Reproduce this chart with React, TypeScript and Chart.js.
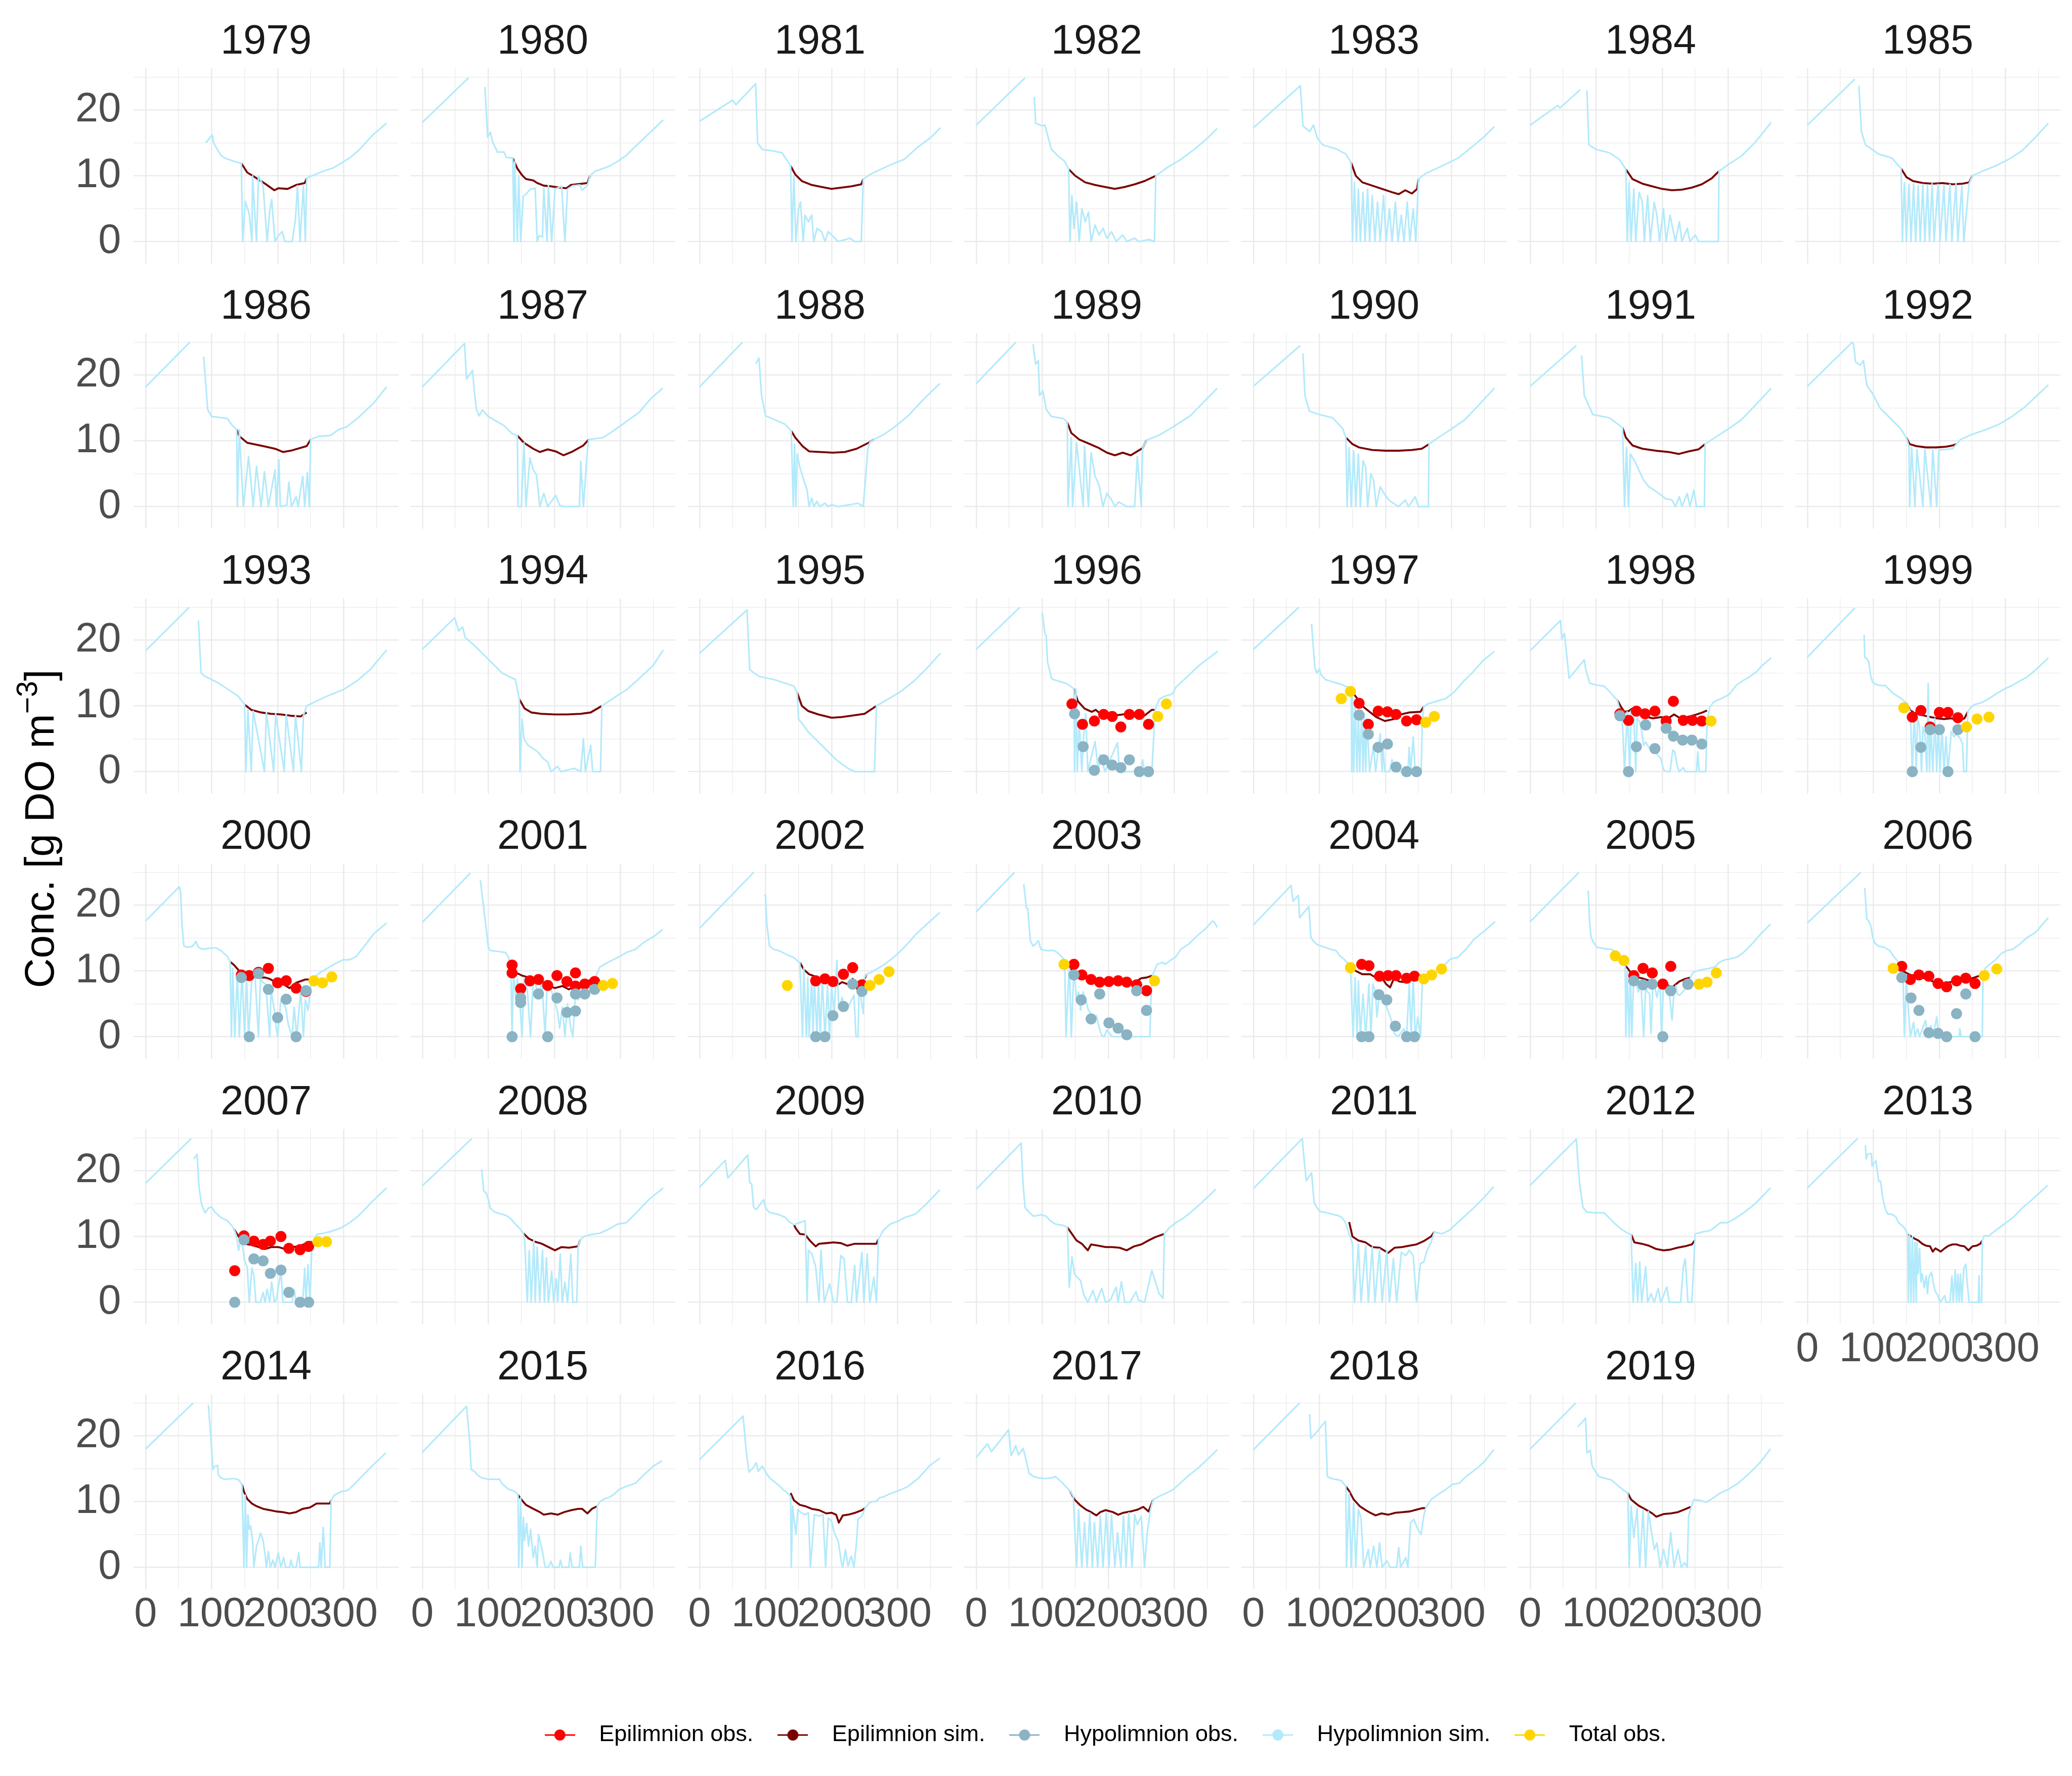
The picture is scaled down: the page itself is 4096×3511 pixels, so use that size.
import React, { useEffect, useRef } from 'react';
import { Chart, registerables } from 'chart.js';

Chart.register(...registerables);

const _ = null;

// ---------------- data ----------------
const YEARS: number[] = [
  1979, 1980, 1981, 1982, 1983, 1984, 1985, 1986, 1987, 1988, 1989, 1990, 1991, 1992,
  1993, 1994, 1995, 1996, 1997, 1998, 1999, 2000, 2001, 2002, 2003, 2004, 2005, 2006,
  2007, 2008, 2009, 2010, 2011, 2012, 2013, 2014, 2015, 2016, 2017, 2018, 2019,
];
const X_TICKS = [0, 50, 100, 150, 200, 250, 300, 350];
const X_LABELLED = [0, 100, 200, 300];
const Y_TICKS = [0, 5, 10, 15, 20, 25];
const Y_LABELLED = [0, 10, 20];
const SERIES = ['Epilimnion obs.', 'Epilimnion sim.', 'Hypolimnion obs.', 'Hypolimnion sim.', 'Total obs.'];

// hypolimnion simulation: [day, conc, day, conc, ...]; null = gap
const H1979 = [91,15.0, 101,16.2, 103,15.0, 114,13.1, 120,12.7, 134,12.2, 145,11.9, 147,0, 151,6.1, 157,4.2, 161,0, 162,10, 168,0, 171,10, 178,8.5, 184,0, 188,4.6, 191,6.4, 196,0, 201,0.9, 207,1.5, 211,0, 222,0, 227,3.4, 230,8.5, 234,0, 239,8.5, 242,0, 244,9.6, 249,9.9, 255,10.1, 269,10.7, 284,11.2, 296,11.9, 309,12.7, 323,13.9, 343,16.1, 365,18.0];
const H1980 = [0,18.1, 70,24.9, 71,_, 95,23.5, 99,15.9, 103,16.6, 107,15.0, 114,13.6, 124,13.6, 127,12.8, 137,12.7, 139,0, 140,12.2, 144,0, 146,10, 149,0, 153,6.9, 157,7.2, 164,8.0, 171,8.1, 174,0, 177,0.9, 182,0.7, 184,8.1, 189,0, 191,8.5, 196,0, 201,8.0, 211,8.4, 216,0, 220,8.0, 228,8.5, 239,8.6, 242,7.8, 250,8.5, 254,10, 262,10.7, 282,11.4, 296,12.2, 309,13.1, 323,14.5, 343,16.4, 365,18.5];
const H1981 = [0,18.3, 50,21.5, 55,20.8, 85,24.0, 88,15.0, 95,14.0, 110,13.8, 125,13.5, 138,11.5, 140,0, 143,10, 146,0, 150,5, 153,6, 157,0, 160,4, 165,3, 170,4, 173,0, 178,2, 185,1.5, 190,0, 195,1.5, 205,0.5, 210,0, 228,0.5, 235,0, 245,0, 248,9.5, 260,10.3, 275,11, 290,11.7, 310,12.5, 330,14.3, 350,15.8, 365,17.3];
const H1982 = [0,17.7, 74,24.9, 75,_, 88,22.0, 90,18.0, 100,17.6, 104,17.7, 114,14.0, 124,13.0, 134,12.2, 140,11, 142,0, 145,7, 148,2, 152,6, 156,0, 160,5, 165,3, 170,4.5, 174,0, 180,2.5, 186,1, 192,2, 198,0.5, 205,1.5, 212,0, 222,1, 228,0, 240,0.5, 246,0, 262,0.3, 270,0, 272,10, 290,11.3, 310,12.5, 330,14, 350,15.7, 365,17.2];
const H1983 = [0,17.3, 71,23.7, 75,17.6, 85,16.7, 91,17.7, 97,15.7, 105,14.7, 125,14.1, 140,13.3, 148,12, 150,0, 153,9, 156,0, 159,8, 162,0, 166,7.5, 169,0, 173,8, 176,0, 180,7, 184,0, 188,6, 192,0, 197,7, 201,0, 206,5, 210,0, 215,6, 219,0, 224,4, 228,0, 233,6, 237,0, 242,5, 246,0, 250,9.5, 260,10.3, 275,11, 290,11.7, 310,12.7, 330,14.3, 350,16, 365,17.5];
const H1984 = [0,17.7, 42,20.7, 45,20.3, 76,23.1, 78,_, 86,23.0, 89,14.7, 100,14.0, 120,13.5, 135,12.5, 145,11, 147,0, 150,9, 153,0, 157,8, 160,0, 165,7.5, 170,6, 173,0, 178,7, 182,0, 188,6, 192,4, 196,0, 202,5, 206,0, 212,4, 216,2, 220,0, 226,3, 230,0, 238,2, 242,0, 250,1, 255,0, 285,0, 286,10.7, 300,11.7, 320,13, 340,15, 365,18.1];
const H1985 = [0,17.7, 72,24.7, 73,_, 78,23.7, 82,16.7, 88,14.7, 108,13.3, 128,12.7, 142,11.1, 144,0, 147,9, 150,0, 154,8.7, 157,0, 161,8.8, 164,0, 168,8.5, 171,0, 175,8.7, 178,0, 182,8.6, 185,0, 189,8.8, 192,0, 198,8.7, 201,0, 207,8.6, 210,0, 216,8.7, 219,0, 225,8.8, 228,0, 234,8.5, 237,0, 245,8.8, 250,10, 265,10.7, 285,11.5, 305,12.5, 325,13.8, 345,15.8, 365,18];
const H1986 = [0,18.2, 67,25.0, 68,_, 88,22.8, 94,14.8, 100,13.7, 124,13.4, 130,12.5, 138,11.7, 139,0, 142,11.7, 148,0, 156,7.6, 163,0, 168,6.1, 175,0, 180,5.3, 186,0, 196,5.6, 198,0, 202,7.1, 204,0, 214,0.2, 217,3.7, 221,0, 228,1.5, 231,0, 238,4.6, 241,0, 245,5.2, 248,0, 250,10.2, 262,10.7, 280,10.8, 292,11.7, 304,12.1, 322,13.5, 346,15.8, 365,18.2];
const H1987 = [0,18.2, 64,24.8, 67,19.4, 76,20.7, 79,17.4, 82,14.8, 86,13.8, 91,14.7, 100,13.7, 112,13.0, 124,12.3, 136,11.1, 144,10.8, 145,0, 150,0, 154,9.7, 157,0, 163,7.4, 168,5.6, 173,4.8, 178,0, 184,2, 190,0, 202,1.7, 208,0.2, 214,0, 238,0, 240,6.9, 244,0, 250,8.5, 252,10.2, 274,10.5, 292,11.7, 310,13.0, 328,14.3, 346,16.4, 364,18.0];
const H1988 = [0,18.2, 65,25.0, 66,_, 85,21.7, 90,22.6, 94,16.9, 100,13.8, 112,13.3, 130,12.5, 139,11.5, 142,0, 144,9.5, 146,0, 148,8, 152,6, 158,4, 163,2.5, 166,0, 170,1.3, 173,0, 178,0.8, 182,0, 190,0.5, 195,0, 200,0.3, 210,0, 240,0.5, 248,0, 252,5, 255,8.8, 258,9.8, 264,10.2, 280,11.0, 298,12.3, 316,13.8, 340,16.4, 364,18.7];
const H1989 = [0,18.7, 60,25.0, 61,_, 86,24.7, 90,21.7, 94,22.2, 96,16.9, 101,17.6, 106,14.8, 114,13.7, 132,13.4, 138,12.8, 139,0, 144,10.5, 146,0, 152,9.7, 162,0, 164,9.2, 170,0, 174,8.2, 180,4.6, 186,3.3, 192,0, 198,2, 204,1.2, 210,0, 216,0.7, 228,0, 240,0, 244,7.6, 250,0, 252,8.9, 258,10.1, 276,10.8, 298,12.1, 324,13.8, 365,18.0];
const H1990 = [0,18.3, 71,24.5, 72,_, 75,23.3, 78,16.9, 85,14.5, 100,14.0, 120,13.5, 135,11.9, 140,10.5, 142,0, 145,9, 148,0, 152,8.5, 155,0, 159,8, 162,0, 166,7, 170,6, 173,0, 178,5, 182,4, 186,0, 192,3, 198,2, 205,1, 212,0.5, 220,0, 230,1, 235,0, 245,1.5, 250,0, 265,0, 266,9.5, 280,10.5, 300,11.8, 320,13.2, 340,15.3, 365,18.0];
const H1991 = [0,18.3, 70,24.5, 71,_, 78,23.0, 82,16.9, 95,14.0, 120,13.5, 140,12, 143,0, 146,9, 149,0, 152,8, 158,7, 165,5.5, 172,4, 180,3, 188,2.5, 195,2, 205,1.2, 215,1, 220,0, 226,1.5, 230,0, 238,2, 242,0, 248,2.5, 252,0, 264,0, 265,9.5, 280,10.5, 300,11.8, 320,13.2, 340,15.3, 365,18.0];
const H1992 = [0,18.3, 68,25.0, 70,24.7, 73,22.0, 80,21.5, 85,22.2, 90,18.5, 100,17.0, 110,15.0, 120,14.0, 130,13.0, 140,12.0, 150,10.5, 154,9.2, 155,0, 158,9, 163,0, 166,8.7, 175,0, 178,8.8, 187,0, 190,8.8, 196,0, 199,8.6, 210,8.7, 220,8.8, 226,9.5, 232,10.2, 250,11.0, 270,11.7, 290,12.5, 310,13.7, 330,15.2, 365,18.5];
const H1993 = [0,18.4, 66,25.0, 67,_, 80,23.0, 84,15.0, 90,14.5, 100,14.0, 110,13.5, 125,12.5, 140,11.5, 150,10.2, 152,0, 155,9.5, 160,0, 163,9.2, 180,0, 183,9, 194,0, 197,8.8, 210,0, 213,8.7, 224,0, 227,8.6, 236,0, 239,8.5, 244,10, 260,10.8, 280,11.7, 300,12.5, 320,13.8, 340,15.5, 365,18.5];
const H1994 = [0,18.6, 49,23.4, 55,21.4, 61,22.0, 65,20.4, 81,19.0, 101,17.0, 121,15.0, 141,14.0, 147,11.0, 148,0, 151,8, 154,5, 160,4, 168,3.5, 175,3, 183,2, 190,1.5, 195,0, 205,0.8, 210,0, 230,0.5, 240,0, 244,5, 247,0, 255,4, 258,0, 270,0, 272,10, 290,11.2, 310,12.5, 330,14.3, 350,16.2, 365,18.5];
const H1995 = [0,18.0, 72,24.6, 76,15.5, 90,14.5, 113,14.0, 143,13.0, 148,12, 150,8, 158,7, 165,6, 175,5, 185,4, 195,3, 205,2, 215,1.2, 225,0.5, 235,0, 265,0, 268,10, 285,11, 305,12.2, 325,13.8, 345,15.8, 365,18.0];
const H1996 = [0,18.6, 66,25.0, 67,_, 100,24.2, 104,21.0, 106,20.7, 108,16.7, 114,14.2, 117,14.0, 127,13.7, 137,13.4, 144,12.9, 148,12.6, 149,0, 151,12.6, 153,0, 156,7.7, 160,0, 162,4.5, 166,8.8, 169,0, 180,4.6, 185,0, 188,2.6, 195,0, 214,4.4, 217,0, 249,0, 252,1.8, 255,0, 266,0, 268,3.7, 271,9.4, 277,11.0, 286,11.5, 297,11.8, 303,12.9, 317,14.2, 337,16.1, 351,17.2, 366,18.3];
const H1997 = [0,18.6, 69,25.0, 70,_, 88,22.5, 93,15.9, 96,15.0, 100,15.6, 102,14.8, 109,14.0, 122,13.6, 132,13.3, 142,12.9, 148,12.3, 149,0, 150,11.3, 152,0, 154,10.4, 157,0, 159,9.6, 161,0, 164,9.4, 166,0, 168,8.8, 170,0, 172,8.0, 176,0, 182,4.0, 185,0, 192,5.8, 195,0, 196,4.0, 199,0, 206,0, 210,1.8, 213,0, 234,0, 236,3.7, 238,0, 242,5.3, 245,0, 254,0, 256,8.0, 258,9.9, 264,10.3, 277,10.7, 291,11.1, 304,12.1, 318,13.7, 331,15.0, 348,16.9, 365,18.3];
const H1998 = [0,18.4, 46,23.0, 48,20.2, 52,21.0, 59,14.2, 82,17.0, 84,15.7, 90,13.5, 95,13.3, 105,13.1, 112,13.0, 121,12.1, 127,11.4, 132,10.9, 136,9.3, 139,9.1, 143,0, 147,9.1, 151,0, 153,9.3, 157,9.1, 160,0, 162,8.1, 166,7.6, 169,6.1, 172,4.0, 175,4.5, 181,3.5, 189,3.0, 198,2.0, 202,0.3, 206,0, 212,0, 216,3.3, 219,3.0, 223,0.8, 226,0, 232,0.6, 235,0, 252,0, 254,3.0, 256,0, 266,0, 268,7.8, 272,9.8, 278,10.6, 289,11.1, 301,11.7, 312,13.1, 323,13.9, 332,14.4, 343,15.2, 352,16.2, 365,17.3];
const H1999 = [0,17.4, 72,24.9, 73,_, 86,20.8, 87,17.4, 90,17.2, 93,16.7, 96,14.5, 99,13.6, 103,13.3, 110,13.1, 118,13.1, 125,12.4, 130,11.9, 138,11.4, 145,10.9, 150,10.4, 156,9.1, 159,0, 162,9.1, 165,0, 167,8.3, 170,6.8, 173,0, 175,6.8, 178,5.6, 181,0, 183,13.4, 185,0, 187,7.1, 190,0, 193,8.1, 196,0, 198,7.1, 201,0, 204,6.6, 207,0, 210,5.3, 213,0, 218,6.1, 222,5.3, 225,5.6, 230,5.3, 235,4.3, 237,0, 241,0, 243,9.1, 247,9.7, 253,10.2, 264,10.5, 275,11.1, 287,11.9, 299,12.6, 310,13.1, 322,13.8, 333,14.4, 345,15.4, 365,17.3];
const H2000 = [0,17.6, 51,22.8, 53,22.0, 55,17.3, 58,13.8, 63,13.6, 70,13.7, 73,14.0, 76,14.5, 80,13.6, 86,13.3, 100,13.5, 107,13.5, 114,13.1, 124,12.2, 128,11.4, 130,0, 132,10.4, 135,0, 139,9.6, 142,0, 146,9.6, 150,0, 153,8.8, 156,0, 161,9.0, 166,8.8, 171,0, 174,8.8, 178,8.2, 182,8.0, 188,0, 190,7.2, 195,4.0, 198,1.3, 200,0, 205,5.6, 212,4.5, 216,1.9, 222,0, 225,4.5, 229,0, 235,7.2, 239,0, 242,5.6, 246,4.0, 249,6.6, 251,8.2, 255,9.0, 265,9.8, 275,10.4, 289,11.2, 299,11.7, 309,11.7, 319,12.2, 330,13.6, 346,15.7, 365,17.3];
const H2001 = [0,17.4, 73,24.9, 74,_, 88,23.8, 92,20.5, 97,16.2, 100,13.6, 103,13.1, 113,13.0, 126,12.8, 130,12.2, 134,10.9, 136,0, 138,9.8, 142,5.6, 144,8.8, 147,6.6, 151,0, 154,9.0, 159,7.2, 164,0, 168,8.8, 174,7.2, 178,6.6, 181,8.8, 186,0, 189,7.7, 195,7.2, 200,5.6, 205,3.7, 208,1.3, 212,4.5, 216,0, 220,5.0, 225,1.3, 228,0, 232,6.6, 236,5.6, 242,6.6, 249,7.2, 255,8.0, 262,9.0, 269,10.6, 279,11.2, 289,11.7, 299,12.2, 309,12.8, 323,13.3, 336,14.4, 350,15.2, 364,16.3];
const H2002 = [0,16.5, 82,25.0, 83,_, 98,21.6, 100,21.4, 102,17.1, 106,13.8, 112,13.3, 120,13.1, 128,12.7, 136,12.3, 142,12.1, 148,11.6, 152,11.3, 156,0, 158,10.5, 162,0, 164,9.0, 166,0, 170,9.0, 172,0, 174,8.8, 178,0, 180,8.8, 183,0, 186,9.0, 190,0, 194,7.8, 197,0, 200,8.0, 204,3.5, 208,11.6, 211,4.2, 216,6.0, 220,4.2, 226,4.7, 230,5.5, 234,6.3, 237,0, 240,0, 242,8.0, 244,6.3, 248,3.5, 250,9.0, 253,9.5, 260,9.8, 272,10.5, 280,11.0, 288,11.6, 300,12.6, 312,13.8, 328,15.6, 344,17.1, 364,18.9];
const H2003 = [0,19.0, 58,25.0, 59,_, 72,23.2, 76,19.6, 78,19.5, 82,14.6, 86,13.8, 90,14.1, 94,14.6, 98,13.3, 106,13.1, 118,13.1, 124,12.7, 130,12.1, 134,11.6, 136,0, 141,11.3, 144,0, 148,10.5, 152,5.5, 155,6.8, 158,4.0, 162,6.8, 166,5.5, 170,4.0, 174,3.5, 178,3.0, 182,3.2, 186,1.5, 190,0.2, 194,0, 198,1.0, 206,0, 263,0, 265,6.8, 267,9.3, 274,11.0, 282,11.3, 286,11.0, 294,11.6, 302,12.1, 310,13.3, 322,14.1, 334,15.3, 346,16.3, 358,17.6, 361,17.4, 365,16.6];
const H2004 = [0,17.0, 57,23.0, 60,20.6, 68,21.5, 70,18.1, 84,19.8, 87,15.1, 91,14.5, 97,14.0, 105,13.7, 117,13.3, 125,13.1, 131,12.3, 137,11.8, 142,11.3, 147,10.5, 151,0, 154,9.0, 157,0, 159,8.5, 162,0, 166,6.5, 170,0, 175,8.0, 178,0, 181,8.0, 185,6.8, 187,3.0, 191,6.5, 197,5.8, 203,4.2, 209,2.5, 213,0.5, 219,0, 228,1.2, 232,0, 236,8.0, 239,0, 242,9.0, 245,0, 249,3.0, 253,0, 256,9.0, 261,9.4, 273,9.8, 286,10.5, 298,11.8, 310,12.1, 322,13.3, 334,14.8, 350,16.1, 366,17.5];
const H2005 = [0,17.5, 74,25.0, 75,_, 88,22.2, 90,17.6, 92,15.3, 95,14.5, 101,13.6, 112,13.4, 123,13.3, 127,13.1, 132,12.3, 141,11.3, 144,10.8, 145,0, 147,10.0, 150,0, 152,9.8, 154,0, 157,9.5, 161,8.0, 164,6.8, 168,8.0, 172,0, 175,7.5, 178,6.8, 181,6.5, 183,0.5, 186,8.0, 189,7.5, 192,6.0, 197,8.0, 199,0, 202,8.0, 205,7.0, 209,7.5, 212,5.5, 215,2.5, 218,7.0, 221,7.8, 223,6.5, 226,6.3, 231,6.8, 235,7.3, 239,8.0, 243,9.0, 246,9.7, 252,10.0, 261,10.2, 272,10.4, 281,10.7, 286,11.3, 295,11.7, 306,11.9, 315,12.2, 323,12.8, 335,14.0, 349,15.6, 364,17.1];
const H2006 = [0,17.3, 81,25.0, 82,_, 87,22.6, 90,17.9, 93,17.6, 96,16.9, 99,15.1, 102,14.3, 107,13.8, 116,13.6, 125,13.1, 130,12.3, 136,11.6, 140,11.0, 145,9.0, 147,0, 150,9.0, 153,4.2, 156,0, 161,2.2, 163,0, 167,1.2, 170,0, 179,2.5, 182,0, 187,1.7, 190,0, 196,3.0, 199,0, 230,0, 231,1.2, 233,0, 265,0, 266,9.0, 270,10.5, 276,11.0, 285,11.7, 293,12.6, 302,13.1, 311,13.3, 322,14.1, 333,15.1, 345,15.8, 365,18.1];
const H2007 = [0,18.1, 69,24.9, 70,_, 73,21.8, 78,22.5, 81,17.4, 85,14.8, 90,13.6, 95,14.3, 100,14.5, 105,13.7, 114,12.9, 124,12.4, 131,11.6, 134,11.1, 137,10.3, 141,7.9, 144,9.5, 147,8.4, 150,6.3, 154,5.3, 157,0, 161,5.2, 164,4.1, 167,0, 174,0, 178,1.5, 181,0, 184,2.0, 188,0, 191,3.1, 195,0, 198,0.4, 205,4.7, 208,0, 222,0, 225,2.0, 228,0, 238,0, 241,5.2, 243,0, 246,5.7, 249,0, 252,8.9, 259,10.3, 269,10.5, 282,10.8, 296,11.3, 309,12.1, 323,13.2, 343,15.3, 365,17.4];
const H2008 = [0,17.7, 75,24.9, 76,_, 90,20.2, 93,16.9, 97,16.6, 100,15.6, 103,14.3, 110,13.7, 117,13.5, 127,13.2, 134,12.7, 141,11.9, 147,11.3, 153,10.5, 155,9.5, 159,0, 162,7.9, 165,0, 169,9.5, 171,0, 174,8.4, 178,0, 182,7.9, 185,0, 188,6.8, 191,0, 196,4.7, 199,0, 203,3.6, 205,0, 209,7.3, 212,0, 216,3.1, 220,0, 225,7.3, 228,0, 234,0, 236,8.4, 239,9.5, 245,10.0, 255,10.3, 269,10.5, 282,11.1, 296,11.9, 309,12.1, 323,13.5, 343,15.6, 365,17.4];
const H2009 = [0,17.5, 39,21.6, 43,18.9, 73,22.4, 76,18.2, 79,18.0, 82,14.4, 86,14.1, 97,15.6, 100,14.4, 105,13.7, 121,13.3, 130,12.9, 136,12.2, 143,11.8, 154,12.2, 160,12.4, 163,0, 165,7.9, 170,7.4, 176,5.4, 181,0, 184,7.9, 189,0, 197,2.8, 203,0, 208,0, 214,7.1, 219,6.6, 224,0, 230,0, 235,5.6, 238,0, 246,7.6, 249,0, 254,7.4, 258,0, 264,3.8, 268,0, 271,9.6, 278,10.9, 289,11.9, 300,12.3, 311,12.9, 327,13.4, 343,14.9, 364,17.1];
const H2010 = [0,17.2, 68,24.2, 71,18.0, 74,14.4, 80,13.7, 87,13.1, 98,13.3, 106,13.1, 112,12.4, 120,11.9, 131,11.7, 138,11.4, 141,2.3, 145,6.9, 149,4.3, 153,3.8, 158,3.3, 163,1.1, 169,0, 177,1.8, 182,0, 190,2.1, 196,0, 203,0.3, 212,2.3, 215,0, 220,3.1, 225,0, 233,0, 242,1.6, 246,0.3, 255,0, 266,4.8, 271,3.3, 277,1.3, 283,0.6, 285,10.4, 293,11.4, 304,12.2, 314,12.8, 325,13.7, 341,15.1, 363,17.2];
const H2011 = [0,17.3, 74,24.9, 76,22.5, 80,18.5, 88,19.7, 92,15.2, 96,14.4, 101,13.8, 112,13.6, 123,13.3, 128,13.2, 134,12.9, 139,12.2, 145,10.4, 150,8.9, 153,0, 159,8.9, 163,0, 170,8.6, 174,0, 180,8.4, 184,0, 191,8.1, 195,0, 202,7.9, 206,0, 212,6.6, 217,0, 224,7.6, 231,7.1, 236,7.9, 242,7.1, 247,0, 253,5.9, 258,6.1, 263,7.9, 269,9.1, 274,10.7, 285,10.4, 296,10.9, 307,11.9, 318,12.9, 334,14.4, 350,16.0, 364,17.6];
const H2012 = [0,17.8, 70,24.8, 72,21.8, 75,18.0, 80,14.4, 86,13.7, 99,13.6, 112,13.6, 121,12.7, 129,11.9, 137,11.2, 148,10.5, 153,10.3, 156,0, 160,5.9, 163,0, 166,6.1, 169,0, 175,5.4, 178,0, 183,1.3, 188,0, 194,2.1, 198,0, 207,2.3, 211,0, 228,0, 232,5.4, 235,6.6, 239,0, 245,0, 250,10.4, 261,10.7, 272,10.9, 277,11.2, 288,12.1, 299,12.1, 310,12.7, 326,13.8, 342,15.1, 364,17.4];
const H2013 = [0,17.4, 76,24.9, 77,_, 88,23.9, 89,21.8, 92,22.6, 97,22.6, 98,20.7, 102,21.3, 104,21.5, 108,18.4, 111,18.4, 114,16.0, 118,14.2, 122,13.4, 128,13.4, 134,13.0, 138,12.1, 142,11.8, 148,11.2, 152,10.3, 153,0, 155,10.3, 157,0, 159,10.0, 161,0, 163,9.1, 165,0, 166,9.1, 168,4.3, 170,8.2, 172,3.1, 174,4.3, 177,2.2, 180,4.0, 182,1.3, 184,3.7, 188,4.6, 191,2.8, 194,1.6, 198,1.0, 201,0, 208,1.0, 210,0, 216,0, 219,4.0, 221,0, 224,4.9, 226,0, 228,4.3, 230,0, 232,4.3, 234,0, 237,5.2, 240,5.8, 242,3.1, 245,0, 259,0, 260,4.0, 261,0, 264,0, 265,9.4, 268,10.1, 275,10.1, 281,10.6, 289,11.2, 297,11.8, 305,12.4, 313,13.0, 325,14.3, 337,15.3, 349,16.4, 364,17.8];
const H2014 = [0,18.0, 72,25.0, 73,_, 95,24.7, 98,21.0, 100,18.0, 102,14.9, 105,15.4, 109,15.5, 110,14.1, 114,13.6, 120,13.4, 134,13.5, 141,13.3, 146,12.6, 149,0, 151,11.0, 153,0, 155,8.0, 157,5.8, 159,6.3, 162,4.1, 164,0, 168,3.2, 171,4.1, 174,5.2, 178,4.1, 181,1.9, 183,0, 186,2.4, 189,0, 193,1.1, 196,0, 201,2.2, 205,0, 209,1.5, 212,0, 218,0, 220,1.1, 223,0, 228,0, 232,2.2, 234,0, 262,0, 264,3.7, 266,0, 269,6.1, 272,0, 279,0, 281,10.2, 286,11.0, 296,11.5, 306,11.7, 316,12.6, 330,14.1, 347,15.8, 364,17.4];
const H2015 = [0,17.5, 67,24.5, 70,21.2, 72,18.8, 74,14.9, 80,14.5, 83,14.1, 90,13.6, 100,13.4, 117,13.4, 120,12.8, 130,11.9, 141,11.5, 145,11.0, 146,0, 149,10.6, 151,0, 153,7.6, 155,4.1, 158,6.7, 161,3.2, 164,5.8, 168,1.5, 171,3.2, 174,0, 176,5.0, 180,3.2, 182,2.4, 186,0, 191,0, 195,0.9, 198,0, 207,0, 209,1.1, 212,0, 222,0, 224,2.2, 227,0, 238,0, 240,3.2, 243,0, 262,0, 265,9.3, 269,10.0, 276,10.4, 282,10.6, 289,11.0, 299,11.9, 309,12.3, 323,12.8, 336,14.1, 350,15.4, 363,16.2];
const H2016 = [0,16.4, 66,23.0, 71,17.4, 75,14.5, 81,15.1, 86,15.9, 89,14.6, 95,15.4, 100,14.5, 106,13.6, 116,12.8, 122,12.3, 127,11.8, 133,11.3, 138,10.8, 139,0, 141,9.3, 146,5.0, 149,8.8, 154,8.3, 160,8.0, 165,8.3, 168,0, 174,8.0, 181,7.8, 187,8.0, 191,0, 195,7.5, 200,7.0, 204,5.3, 210,4.0, 215,0.7, 217,0, 221,2.7, 225,0.2, 230,1.7, 234,0, 238,4.0, 240,7.3, 246,7.8, 251,9.0, 257,9.8, 262,10.0, 267,10.0, 273,10.6, 278,10.7, 289,11.2, 305,11.8, 316,12.3, 332,13.6, 348,15.4, 364,16.6];
const H2017 = [0,16.7, 17,18.8, 23,17.6, 49,20.9, 53,17.0, 60,18.5, 64,17.1, 71,18.1, 75,16.6, 80,14.3, 87,13.8, 95,13.6, 104,13.5, 114,13.6, 120,13.8, 131,12.8, 142,11.6, 147,10.8, 152,0, 155,8.8, 160,0, 164,6.8, 168,0, 172,8.3, 176,0, 179,6.8, 184,0, 188,7.8, 192,0, 197,8.3, 201,0, 205,8.0, 210,0, 214,5.3, 219,0, 223,7.8, 227,0, 231,8.3, 236,0, 240,8.0, 244,6.5, 250,7.8, 255,0, 259,5.3, 264,8.8, 268,10.3, 277,10.8, 288,11.3, 298,11.8, 309,12.8, 320,13.8, 336,15.1, 352,16.6, 365,17.9];
const H2018 = [0,17.9, 70,25.0, 71,_, 85,23.3, 87,19.6, 96,20.6, 109,22.2, 112,13.8, 118,13.5, 129,13.3, 134,13.1, 140,12.3, 141,0, 145,11.3, 148,0, 152,9.8, 155,0, 159,8.8, 163,7.5, 167,0, 174,2.7, 177,0, 182,3.2, 187,0, 191,3.7, 195,0, 202,1.0, 207,0, 217,0, 220,3.0, 223,0, 231,1.5, 234,0, 238,6.8, 243,7.3, 249,5.8, 254,5.0, 258,7.8, 261,9.0, 269,10.3, 280,11.1, 291,11.8, 301,12.6, 312,12.8, 322,13.8, 339,15.1, 350,16.1, 364,17.9];
const H2019 = [0,18.0, 69,25.0, 70,_, 72,21.4, 80,22.2, 84,22.7, 86,17.4, 91,17.8, 94,15.4, 99,14.6, 104,13.8, 115,13.5, 123,13.3, 131,12.6, 142,11.7, 148,11.3, 150,0, 153,9.3, 157,4.5, 162,9.0, 166,0, 171,8.8, 175,0, 179,8.5, 184,5.3, 188,2.7, 192,3.7, 197,0, 202,2.7, 208,0, 213,5.3, 218,0, 224,2.7, 229,0, 234,0.7, 238,0, 240,7.8, 243,8.8, 248,10.3, 256,10.2, 267,9.9, 278,10.6, 288,11.3, 299,11.8, 315,12.8, 332,14.3, 348,15.9, 364,18.0];

// epilimnion simulation
const E1979 = [145,11.9, 154,10.5, 167,9.7, 181,8.8, 195,7.8, 201,8.1, 215,8.0, 228,8.6, 241,8.9, 244,9.6];
const E1980 = [137,12.7, 144,11.1, 151,10.1, 157,9.5, 168,9.3, 174,8.9, 184,8.5, 195,8.4, 208,8.2, 218,8.1, 225,8.6, 242,8.8, 250,8.9, 254,10];
const E1981 = [138,11.5, 145,10.2, 155,9.2, 170,8.6, 185,8.3, 200,8.0, 215,8.2, 230,8.4, 245,8.7, 248,9.5];
const E1982 = [140,11, 150,10, 165,9, 180,8.6, 195,8.3, 210,8.0, 225,8.3, 240,8.7, 255,9.2, 268,9.8, 272,10];
const E1983 = [148,12, 155,10, 165,9, 180,8.5, 195,8, 210,7.5, 220,7.2, 230,7.8, 240,7.3, 248,8, 250,9.5];
const E1984 = [145,11, 155,9.5, 170,8.8, 185,8.4, 200,8.0, 215,7.8, 230,7.9, 245,8.2, 260,8.7, 275,9.6, 286,10.7];
const E1985 = [142,11.1, 150,9.8, 160,9.2, 175,8.9, 190,8.8, 205,8.9, 220,8.7, 235,8.8, 245,9, 250,10];
const E1986 = [138,11.7, 142,10.7, 154,9.7, 178,9.2, 196,8.8, 208,8.3, 220,8.5, 244,9.2, 250,10.2];
const E1987 = [144,10.8, 154,9.7, 168,8.8, 178,8.3, 190,8.7, 202,8.4, 214,7.8, 226,8.3, 244,9.3, 252,10.2];
const E1988 = [139,11.5, 145,10.5, 156,9.2, 166,8.4, 184,8.3, 202,8.2, 220,8.3, 238,8.8, 256,9.7, 264,10.2];
const E1989 = [138,12.8, 144,11.2, 156,10.2, 168,9.7, 186,8.9, 198,8.2, 210,7.8, 222,8.2, 234,7.8, 252,8.9, 258,10.1];
const E1990 = [140,10.5, 150,9.5, 160,9.0, 180,8.6, 200,8.5, 220,8.5, 240,8.6, 255,8.8, 266,9.5];
const E1991 = [140,12, 145,10.5, 155,9.3, 170,8.8, 190,8.5, 210,8.3, 225,8.0, 240,8.4, 255,8.7, 265,9.5];
const E1992 = [150,10.5, 155,9.5, 165,9.2, 180,9.0, 195,9.0, 210,9.1, 220,9.3, 226,9.5];
const E1993 = [150,10.2, 160,9.4, 175,9.0, 190,8.8, 205,8.7, 220,8.5, 235,8.4, 244,9.0];
const E1994 = [147,11, 155,9.6, 165,9.0, 180,8.8, 200,8.7, 220,8.7, 240,8.8, 255,9.0, 272,10];
const E1995 = [148,12, 155,10, 165,9.2, 180,8.7, 200,8.2, 215,8.3, 230,8.5, 250,8.8, 268,10];
const E1996 = [148,12.6, 154,10.7, 164,9.6, 175,9.1, 181,9.4, 188,8.8, 201,8.7, 215,8.6, 229,8.8, 242,8.4, 252,8.3, 266,9.4, 271,9.4];
const E1997 = [148,12.3, 156,11.3, 166,9.9, 176,9.1, 186,8.3, 199,7.7, 213,8.0, 223,8.7, 236,9.0, 253,9.1, 258,9.9];
const E1998 = [132,10.9, 138,9.8, 143,9.1, 149,9.2, 155,9.6, 162,9.1, 169,8.7, 178,8.3, 186,8.1, 198,8.3, 209,8.1, 218,8.7, 226,8.2, 238,8.3, 249,8.6, 261,9.0, 268,9.3];
const E1999 = [150,10.4, 156,9.3, 162,9.0, 170,8.7, 178,8.5, 187,8.3, 196,8.1, 207,8.0, 218,8.1, 230,7.8, 238,8.1, 243,9.1];
const E2000 = [128,11.4, 134,10.9, 141,10.1, 150,9.8, 161,9.6, 171,9.0, 181,9.0, 188,8.8, 198,8.2, 208,8.0, 218,7.4, 228,8.2, 242,8.7, 251,8.7];
const E2001 = [134,10.9, 141,9.8, 151,9.3, 161,9.0, 171,8.5, 181,8.2, 191,7.7, 201,7.4, 212,7.7, 222,7.2, 232,7.7, 242,8.0, 252,8.5, 262,9.0];
const E2002 = [152,11.3, 158,10.2, 166,9.5, 174,9.2, 182,8.9, 192,8.5, 200,8.1, 208,7.8, 216,8.3, 224,8.0, 232,8.8, 240,7.0, 248,8.3, 253,9.5];
const E2003 = [134,11.6, 142,10.5, 150,9.7, 162,9.0, 174,8.7, 186,8.4, 198,8.3, 210,8.1, 222,8.0, 234,8.0, 242,8.4, 250,8.9, 258,9.0, 267,9.3];
const E2004 = [147,10.5, 157,9.9, 165,9.5, 177,9.5, 185,9.0, 193,9.2, 201,8.0, 207,7.5, 213,8.9, 221,8.4, 229,8.3, 237,8.8, 245,8.9, 256,9.0];
const E2005 = [144,10.8, 147,10.5, 152,9.8, 158,9.4, 164,9.0, 169,8.9, 175,8.7, 184,8.4, 192,8.1, 198,7.9, 203,8.0, 209,7.8, 215,7.5, 221,8.0, 226,8.4, 235,8.8, 243,9.0];
const E2006 = [140,11.0, 145,10.0, 150,9.7, 156,9.4, 165,9.3, 173,9.0, 182,8.8, 190,8.4, 199,8.1, 207,8.0, 216,8.3, 225,8.5, 233,8.7, 242,8.8, 250,8.9, 259,9.2, 266,9.5];
const E2007 = [134,11.1, 141,10.0, 150,8.9, 161,8.7, 171,8.4, 181,8.1, 191,8.4, 201,8.4, 211,8.1, 222,8.4, 232,8.5, 242,8.9, 252,9.2];
const E2008 = [153,10.5, 161,9.7, 171,9.2, 181,8.9, 191,8.4, 201,7.9, 211,8.4, 222,8.3, 236,8.5, 239,9.5];
const E2009 = [143,11.8, 146,11.2, 152,10.4, 160,10.3, 167,9.4, 176,8.5, 181,8.9, 192,9.0, 203,9.1, 214,9.0, 224,8.6, 235,8.9, 251,8.9, 268,8.9, 271,9.6];
const E2010 = [138,11.4, 145,10.4, 152,9.4, 160,8.9, 169,7.9, 174,8.8, 185,8.6, 196,8.4, 206,8.4, 217,8.3, 228,7.9, 239,8.5, 250,8.8, 261,9.4, 271,9.9, 285,10.4];
const E2011 = [145,12.2, 150,10.0, 159,9.4, 170,9.1, 180,8.4, 191,8.3, 204,7.5, 214,8.3, 225,8.4, 236,8.6, 247,8.8, 258,9.3, 269,10.0, 274,10.7];
const E2012 = [153,10.3, 158,9.1, 169,8.9, 180,8.6, 191,8.1, 202,7.9, 212,8.0, 223,8.3, 234,8.5, 245,8.8, 250,9.5];
const E2013 = [152,10.3, 156,10.1, 162,9.7, 168,9.4, 174,8.9, 180,8.6, 186,8.5, 190,7.7, 194,8.2, 199,7.9, 202,7.7, 208,8.2, 214,8.6, 220,8.8, 226,8.8, 232,8.6, 238,8.5, 244,7.9, 250,8.5, 256,8.6, 262,8.9, 265,9.4];
const E2014 = [146,12.6, 149,11.5, 154,10.4, 161,9.7, 168,9.3, 178,8.9, 188,8.7, 198,8.5, 208,8.4, 218,8.2, 228,8.4, 238,8.9, 249,9.1, 259,9.7, 269,9.7, 279,9.7, 281,10.2];
const E2015 = [145,11.0, 151,10.2, 157,9.5, 168,8.9, 178,8.4, 184,8.0, 195,8.2, 205,8.0, 215,8.4, 226,8.7, 236,8.9, 242,8.9, 250,8.2, 257,8.9, 265,9.3];
const E2016 = [138,11.3, 143,10.2, 152,9.5, 160,9.3, 170,8.9, 181,8.7, 192,8.2, 200,8.3, 207,8.0, 211,6.8, 217,7.9, 225,8.0, 236,8.3, 246,8.7, 251,9.0];
const E2017 = [142,11.6, 149,10.3, 158,9.4, 166,8.8, 174,8.4, 182,7.9, 188,8.4, 196,8.7, 207,8.4, 215,8.0, 223,8.3, 234,8.5, 245,8.8, 253,9.2, 261,8.5, 268,10.3];
const E2018 = [140,12.3, 145,11.6, 152,10.3, 161,9.3, 170,8.7, 177,8.3, 185,7.9, 194,8.2, 204,8.0, 215,8.3, 226,8.4, 237,8.5, 248,8.8, 256,9.0, 261,9.0];
const E2019 = [148,11.3, 153,10.3, 164,9.4, 175,8.8, 185,8.2, 191,7.7, 202,8.1, 213,8.2, 224,8.4, 234,8.8, 243,9.2];

// observations (1996-2007)
const EO1996 = [145,10.3, 161,7.2, 179,7.7, 193,8.7, 206,8.4, 219,6.8, 232,8.7, 247,8.7, 261,7.2];
const HO1996 = [149,8.8, 162,3.8, 179,0.2, 193,1.8, 206,1.0, 219,0.6, 232,1.8, 247,0, 261,0];
const TO1996 = [275,8.4, 288,10.3];
const EO1997 = [160,10.4, 174,7.2, 189,9.2, 203,9.1, 216,8.7, 232,7.7, 247,7.9];
const HO1997 = [160,8.6, 174,5.7, 189,3.7, 203,4.2, 216,0.7, 232,0, 247,0];
const TO1997 = [133,11.1, 147,12.2, 261,7.5, 274,8.4];
const EO1998 = [136,8.8, 149,7.8, 161,9.2, 174,8.8, 189,9.2, 206,7.7, 217,10.7, 232,7.8, 246,7.8, 260,7.7];
const HO1998 = [136,8.5, 149,0, 161,3.8, 175,7.1, 189,3.5, 206,6.6, 217,5.4, 231,4.8, 245,4.8, 260,4.2];
const TO1998 = [274,7.7];
const EO1999 = [159,8.3, 172,9.3, 186,6.8, 200,9.0, 213,9.0, 228,8.2];
const HO1999 = [159,0, 172,3.7, 186,6.4, 200,6.4, 213,0, 228,6.4];
const TO1999 = [146,9.7, 241,6.8, 257,8.0, 275,8.3];
const EO2000 = [145,9.4, 157,9.3, 171,9.8, 186,10.4, 200,8.2, 213,8.5, 228,7.4, 243,6.9];
const HO2000 = [145,9.0, 157,0, 171,9.6, 186,7.2, 200,2.9, 213,5.7, 228,0, 243,7.0];
const TO2000 = [255,8.5, 268,8.2, 282,9.1];
const EO2001 = [136,10.9, 136,9.7, 149,7.3, 163,8.5, 176,8.7, 190,7.8, 204,9.3, 219,8.4, 232,9.7, 232,7.7, 246,8.0, 261,8.4];
const HO2001 = [136,0, 149,5.9, 149,5.2, 176,6.5, 190,0, 204,5.9, 219,3.7, 232,3.9, 232,6.5, 246,6.5, 261,7.2];
const TO2001 = [274,7.8, 288,8.1];
const EO2002 = [176,8.5, 190,8.8, 202,8.4, 218,9.5, 232,10.5, 246,7.9];
const HO2002 = [176,0, 190,0, 202,3.2, 218,4.6, 232,8.0, 246,6.9];
const TO2002 = [133,7.8, 258,7.8, 272,8.7, 287,9.9];
const EO2003 = [148,11.0, 160,9.4, 174,8.7, 187,8.3, 201,8.4, 215,8.5, 228,8.3, 243,7.9, 258,7.0];
const HO2003 = [148,9.4, 159,5.6, 174,2.7, 187,6.5, 201,2.1, 215,1.3, 228,0.3, 243,7.0, 258,4.0];
const TO2003 = [133,11.0, 270,8.5];
const EO2004 = [164,11.0, 175,10.8, 191,9.2, 204,9.3, 216,9.3, 232,8.9, 244,9.2];
const HO2004 = [164,0, 175,0, 190,6.4, 202,5.6, 215,1.6, 232,0, 244,0];
const TO2004 = [147,10.5, 258,8.8, 270,9.4, 285,10.3];
const EO2005 = [157,9.3, 171,10.4, 185,9.7, 201,8.0, 213,10.7, 239,8.0];
const HO2005 = [157,8.5, 171,7.9, 185,8.0, 201,0, 213,7.0, 239,8.0];
const TO2005 = [129,12.3, 142,11.6, 256,8.0, 268,8.3, 282,9.7];
const EO2006 = [143,10.7, 156,8.7, 169,9.4, 184,9.2, 198,8.1, 211,7.6, 226,8.5, 240,8.9, 254,8.1];
const HO2006 = [143,9.0, 157,5.9, 169,4.0, 184,0.6, 198,0.5, 211,0, 226,3.5, 240,6.5, 254,0];
const TO2006 = [130,10.4, 268,9.3, 287,10.3];
const EO2007 = [135,4.8, 149,10.1, 164,9.3, 178,8.8, 189,9.3, 205,10.0, 217,8.2, 234,8.0, 247,8.5];
const HO2007 = [135,0, 149,9.5, 164,6.6, 178,6.3, 189,4.4, 205,4.9, 217,1.5, 234,0, 247,0];
const TO2007 = [261,9.2, 274,9.2];

// lookup tables built from the arrays above
const HYPO_SIM_LIST = [H1979, H1980, H1981, H1982, H1983, H1984, H1985, H1986, H1987, H1988, H1989, H1990, H1991, H1992, H1993, H1994, H1995, H1996, H1997, H1998, H1999, H2000, H2001, H2002, H2003, H2004, H2005, H2006, H2007, H2008, H2009, H2010, H2011, H2012, H2013, H2014, H2015, H2016, H2017, H2018, H2019];
const EPI_SIM_LIST = [E1979, E1980, E1981, E1982, E1983, E1984, E1985, E1986, E1987, E1988, E1989, E1990, E1991, E1992, E1993, E1994, E1995, E1996, E1997, E1998, E1999, E2000, E2001, E2002, E2003, E2004, E2005, E2006, E2007, E2008, E2009, E2010, E2011, E2012, E2013, E2014, E2015, E2016, E2017, E2018, E2019];
const EPI_OBS: Record<number, number[]> = { 1996: EO1996, 1997: EO1997, 1998: EO1998, 1999: EO1999, 2000: EO2000, 2001: EO2001, 2002: EO2002, 2003: EO2003, 2004: EO2004, 2005: EO2005, 2006: EO2006, 2007: EO2007 };
const HYPO_OBS: Record<number, number[]> = { 1996: HO1996, 1997: HO1997, 1998: HO1998, 1999: HO1999, 2000: HO2000, 2001: HO2001, 2002: HO2002, 2003: HO2003, 2004: HO2004, 2005: HO2005, 2006: HO2006, 2007: HO2007 };
const TOTAL_OBS: Record<number, number[]> = { 1996: TO1996, 1997: TO1997, 1998: TO1998, 1999: TO1999, 2000: TO2000, 2001: TO2001, 2002: TO2002, 2003: TO2003, 2004: TO2004, 2005: TO2005, 2006: TO2006, 2007: TO2007 };

// ---------------- style ----------------
const S = 0.991;
const FONT = '"Liberation Sans", Arial, Helvetica, sans-serif';
const C_EOBS = '#FF0000';
const C_ESIM = '#7A0000';
const C_HOBS = '#8AB3C4';
const C_HSIM = '#B3EAFB';
const C_TOBS = '#FFD500';
const COLORS = [C_EOBS, C_ESIM, C_HOBS, C_HSIM, C_TOBS];
const GRID = '#EBEBEB';
const XMIN = -18.25, XMAX = 383.25, YMIN = -3.35, YMAX = 26.35;
const FS = 81;            // tick / strip font size
const PT_R = 10.9;

const W = Math.round(529 * S);
const H = Math.round(390 * S);
const TOP_X = 110;
const LEFT_X = 140;
const BOT_X = 110;

const toPts = (a: (number | null)[]) => {
  const out: { x: number; y: number | null }[] = [];
  for (let i = 0; i < a.length; i += 2) out.push({ x: a[i] as number, y: a[i + 1] });
  return out;
};

function Panel({ year, index }: { year: number; index: number }) {
  const ref = useRef<HTMLCanvasElement>(null);
  const r = Math.floor(index / 7), c = index % 7;
  const L = Math.round((266 + 552.5 * c) * S);
  const T = Math.round((136 + 529 * r) * S);
  const showY = c === 0;
  const showX = r === 5 || year === 2013;
  const left = showY ? LEFT_X : 0;
  const bottom = showX ? BOT_X : 0;
  const cw = W + left, ch = H + TOP_X + bottom;

  useEffect(() => {
    const canvas = ref.current;
    if (!canvas) return;
    const gridWidth = (v: number) => (v % 100 === 0 ? 2.6 : 1.3);
    const gridWidthY = (v: number) => (v % 10 === 0 ? 2.6 : 1.3);
    const chart = new Chart(canvas, {
      type: 'scatter',
      data: {
        datasets: [
          { label: SERIES[4], data: toPts(TOTAL_OBS[year] || []), backgroundColor: C_TOBS, borderWidth: 0, pointRadius: PT_R, showLine: false, order: 0 } as any,
          { label: SERIES[2], data: toPts(HYPO_OBS[year] || []), backgroundColor: C_HOBS, borderWidth: 0, pointRadius: PT_R, showLine: false, order: 1 } as any,
          { label: SERIES[0], data: toPts(EPI_OBS[year] || []), backgroundColor: C_EOBS, borderWidth: 0, pointRadius: PT_R, showLine: false, order: 2 } as any,
          { label: SERIES[3], data: toPts(HYPO_SIM_LIST[index]), borderColor: C_HSIM, borderWidth: 3.2, pointRadius: 0, showLine: true, spanGaps: false, tension: 0, borderJoinStyle: 'round', order: 3 } as any,
          { label: SERIES[1], data: toPts(EPI_SIM_LIST[index]), borderColor: C_ESIM, borderWidth: 3.8, pointRadius: 0, showLine: true, spanGaps: false, tension: 0, borderJoinStyle: 'round', order: 4 } as any,
        ],
      },
      options: {
        responsive: false,
        animation: false,
        devicePixelRatio: 1,
        events: [],
        layout: { padding: 0, autoPadding: false } as any,
        plugins: {
          legend: { display: false },
          tooltip: { enabled: false },
          title: {
            display: true,
            text: String(year),
            fullSize: false,
            color: '#1A1A1A',
            font: { family: FONT, size: FS, weight: 'normal', lineHeight: 1.2 },
            padding: { top: 9.8, bottom: 3 },
          } as any,
        },
        scales: {
          x: {
            type: 'linear',
            min: XMIN,
            max: XMAX,
            afterBuildTicks: (ax: any) => { ax.ticks = X_TICKS.map((v) => ({ value: v })); },
            afterFit: (ax: any) => { ax.height = bottom; ax.paddingLeft = 0; ax.paddingRight = 0; ax.paddingTop = 0; ax.paddingBottom = 0; },
            grid: { color: GRID, lineWidth: (ctx: any) => gridWidth(ctx.tick ? ctx.tick.value : 0), drawTicks: false },
            border: { display: false },
            ticks: {
              display: showX,
              autoSkip: false,
              maxRotation: 0,
              minRotation: 0,
              padding: 2.4,
              color: '#4D4D4D',
              font: { family: FONT, size: FS, lineHeight: 1.2 },
              callback: (v: any) => (X_LABELLED.includes(Number(v)) ? String(v) : ''),
            },
          } as any,
          y: {
            type: 'linear',
            min: YMIN,
            max: YMAX,
            afterBuildTicks: (ax: any) => { ax.ticks = Y_TICKS.map((v) => ({ value: v })); },
            afterFit: (ax: any) => { ax.width = left; ax.paddingTop = 0; ax.paddingBottom = 0; ax.paddingLeft = 0; ax.paddingRight = 0; },
            grid: { color: GRID, lineWidth: (ctx: any) => gridWidthY(ctx.tick ? ctx.tick.value : 0), drawTicks: false },
            border: { display: false },
            ticks: {
              display: showY,
              autoSkip: false,
              padding: 24.8,
              color: '#4D4D4D',
              font: { family: FONT, size: FS, lineHeight: 1.2 },
              callback: (v: any) => (Y_LABELLED.includes(Number(v)) ? String(v) : ''),
            },
          } as any,
        },
      },
    });
    return () => chart.destroy();
  }, []);

  return (
    <canvas
      ref={ref}
      width={cw}
      height={ch}
      style={{ position: 'absolute', left: L - left, top: T - TOP_X, width: cw, height: ch }}
    />
  );
}

const yTitlePlugin = {
  id: 'yTitle',
  afterDraw(chart: any) {
    const ctx = chart.ctx as CanvasRenderingContext2D;
    const f = 82, fs = Math.round(f * 0.7);
    const a = 'Conc. [g DO m', b = '\u22123', c = ']';
    ctx.save();
    ctx.font = `${f}px ${FONT}`;
    const wa = ctx.measureText(a).width;
    const wc = ctx.measureText(c).width;
    ctx.font = `${fs}px ${FONT}`;
    const wb = ctx.measureText(b).width;
    const total = wa + wb + wc;
    ctx.translate(106, 1638.6);
    ctx.rotate(-Math.PI / 2);
    ctx.fillStyle = '#000000';
    ctx.textBaseline = 'alphabetic';
    ctx.textAlign = 'left';
    let x = -total / 2;
    ctx.font = `${f}px ${FONT}`;
    ctx.fillText(a, x, 0);
    x += wa;
    ctx.font = `${fs}px ${FONT}`;
    ctx.fillText(b, x, -f * 0.4);
    x += wb;
    ctx.font = `${f}px ${FONT}`;
    ctx.fillText(c, x, 0);
    ctx.restore();
  },
};

function Frame() {
  const ref = useRef<HTMLCanvasElement>(null);
  useEffect(() => {
    const canvas = ref.current;
    if (!canvas) return;
    const keyImage = (color: string) => {
      const k = document.createElement('canvas');
      k.width = 60; k.height = 24;
      const g = k.getContext('2d')!;
      g.strokeStyle = color; g.lineWidth = 3;
      g.beginPath(); g.moveTo(0, 12); g.lineTo(60, 12); g.stroke();
      g.fillStyle = color;
      g.beginPath(); g.arc(30, 12, PT_R, 0, Math.PI * 2); g.fill();
      return k;
    };
    const chart = new Chart(canvas, {
      type: 'scatter',
      data: {
        datasets: SERIES.map((name, i) => ({ label: name, data: [], backgroundColor: COLORS[i], borderColor: COLORS[i] })),
      },
      options: {
        responsive: false,
        animation: false,
        devicePixelRatio: 1,
        events: [],
        layout: { padding: { left: 250, right: 0, top: 0, bottom: 48.5 } },
        scales: { x: { display: false }, y: { display: false } },
        plugins: {
          tooltip: { enabled: false },
          title: { display: false },
          legend: {
            display: true,
            position: 'bottom',
            labels: {
              usePointStyle: true,
              pointStyleWidth: 110,
              padding: 23,
              color: '#000000',
              font: { family: FONT, size: 45 },
              generateLabels: (ch: any) =>
                ch.data.datasets.map((ds: any, i: number) => ({
                  text: ds.label,
                  pointStyle: keyImage(COLORS[i]),
                  fillStyle: COLORS[i],
                  strokeStyle: COLORS[i],
                  lineWidth: 0,
                  hidden: false,
                  datasetIndex: i,
                })),
            },
          } as any,
        },
      },
      plugins: [yTitlePlugin],
    });
    return () => chart.destroy();
  }, []);
  return <canvas ref={ref} width={4096} height={3511} style={{ position: 'absolute', left: 0, top: 0, width: 4096, height: 3511 }} />;
}

export default function App() {
  return (
    <div style={{ position: 'absolute', left: 0, top: 0, width: 4096, height: 3511, background: '#FFFFFF', overflow: 'hidden' }}>
      <Frame />
      {YEARS.map((y, i) => (
        <Panel key={y} year={y} index={i} />
      ))}
    </div>
  );
}
